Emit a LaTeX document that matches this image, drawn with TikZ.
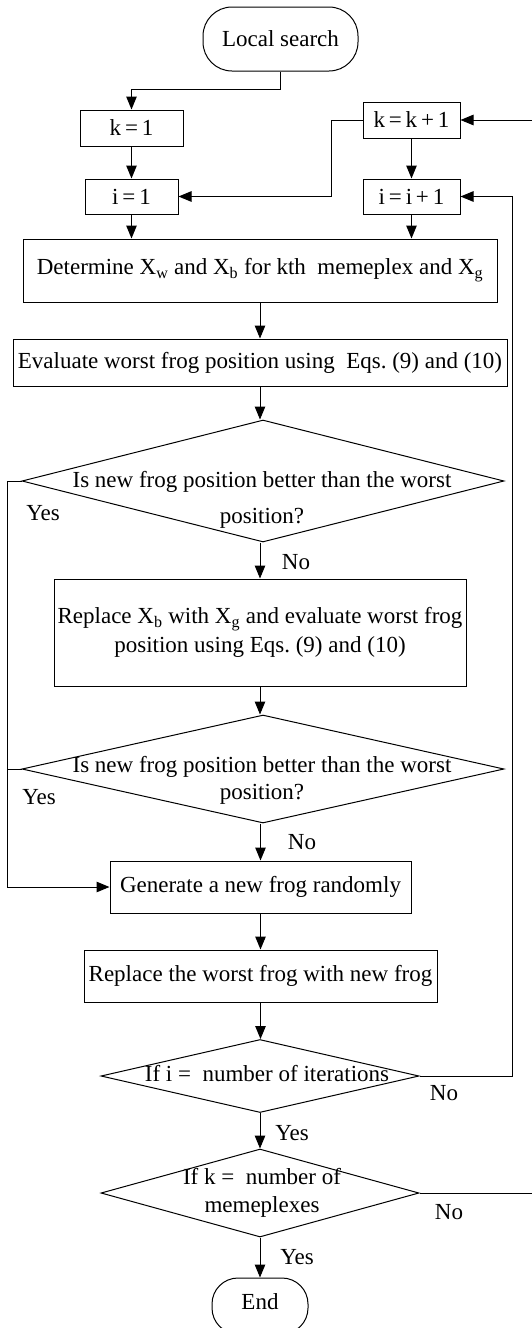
\documentclass[tikz,border=0pt]{standalone}
\usepackage{fontspec}
\setmainfont{Liberation Serif}
\usetikzlibrary{shapes.geometric,arrows.meta}
\begin{document}
\begin{tikzpicture}[x=1pt,y=-1pt,
  every node/.style={font=\fontsize{23}{27}\selectfont, inner sep=0pt},
  box/.style={draw, rectangle, line width=1pt},
  term/.style={draw, rectangle, rounded corners=29pt, line width=1pt},
  dec/.style={draw, diamond, line width=1pt},
  two/.style={align=center, font=\fontsize{23}{#1}\selectfont},
  arr/.style={line width=1pt, -{Triangle[length=13pt,width=10.5pt]}},
  ln/.style={line width=1pt}]
\useasboundingbox (0,0) rectangle (532,1328);
\clip (0,0) rectangle (532,1328);

% nodes
\node[term, minimum width=155pt, minimum height=64pt] (ls) at (280.5,39) {Local search};
\node[box, minimum width=103pt, minimum height=36pt] (k1) at (131.5,128) {k\,=\,1};
\node[box, minimum width=93pt, minimum height=35pt] (i1) at (131.5,196.5) {i\,=\,1};
\node[box, minimum width=97pt, minimum height=36pt] (kk) at (411.5,120) {k\,=\,k\,+\,1};
\node[box, minimum width=97pt, minimum height=35pt] (ii) at (411.5,196.5) {i\,=\,i\,+\,1};
\node[box, minimum width=474pt, minimum height=63pt] (det) at (260,270.5)
  {Determine X\textsubscript{w} and X\textsubscript{b} for kth~ memeplex and X\textsubscript{g}};
\node[box, minimum width=494pt, minimum height=47pt] (eva) at (260,362.5)
  {Evaluate worst frog position using~ Eqs.\ (9) and (10)};
\node[dec, minimum width=482pt, minimum height=122pt] (d1) at (263,481) {};
\node[two=36] (d1t) at (262,500) {Is new frog position better than the worst\\position?};
\node[box, minimum width=412pt, minimum height=107pt, two=29] (rep) at (260,632.5)
  {Replace X\textsubscript{b} with X\textsubscript{g} and evaluate worst frog\\position using Eqs.\ (9) and (10)};
\node[dec, minimum width=482pt, minimum height=108pt] (d2) at (263,769) {};
\node[two=27] (d2t) at (262,780.5) {Is new frog position better than the worst\\position?};
\node[box, minimum width=301pt, minimum height=52pt] (gen) at (260.5,887) {Generate a new frog randomly};
\node[box, minimum width=353pt, minimum height=52pt] (rw) at (260.5,976) {Replace the worst frog with new frog};
\node[dec, minimum width=318pt, minimum height=73pt] (d3) at (260,1076) {};
\node (d3t) at (267,1074) {If i =~ number of iterations};
\node[dec, minimum width=318pt, minimum height=88pt] (d4) at (260,1193) {};
\node[two=28] (d4t) at (262,1193) {If k =~ number of\\memeplexes};
\node[term, minimum width=96pt, minimum height=56pt, rounded corners=26pt] (end) at (260,1306) {};
\node (endt) at (260,1302) {End};

% labels
\node (y1) at (43,513) {Yes};
\node (n1) at (296,562) {No};
\node (y2) at (39,797) {Yes};
\node (n2) at (302,842) {No};
\node (n3) at (444,1093) {No};
\node (y3) at (292,1133) {Yes};
\node (n4) at (449,1212) {No};
\node (y4) at (297,1257) {Yes};

% connectors
\draw[arr] (ls.south) -- ++(0,18) -| (k1.north);
\draw[arr] (k1.south) -- (i1.north);
\draw[arr] (kk.west) -- ++(-31,0) |- (i1.east);
\draw[arr] (kk.south) -- (ii.north);
\draw[arr] (i1.south) -- (i1.south |- det.north);
\draw[arr] (ii.south) -- (ii.south |- det.north);
\draw[arr] (det.south) -- (det.south |- eva.north);
\draw[arr] (eva.south) -- (eva.south |- d1.north);
\draw[arr] (d1.west) -- ++(-14,0) coordinate (lft) |- (gen.west);
\draw[ln] (d2.west) -- (d2.west -| lft);
\draw[arr] (d1.south -| rep.north) -- (rep.north);
\draw[arr] (rep.south) -- (rep.south |- d2.north);
\draw[arr] (d2.south -| gen.north) -- (gen.north);
\draw[arr] (gen.south) -- (rw.north);
\draw[arr] (rw.south) -- (rw.south |- d3.north);
\draw[arr] (d3.east) -- (512,1076) |- (ii.east);
\draw[arr] (d3.south) -- (d4.north);
\draw[arr] (d4.east) -- (545,1193) |- (kk.east);
\draw[arr] (d4.south) -- (end.north);
\end{tikzpicture}
\end{document}
